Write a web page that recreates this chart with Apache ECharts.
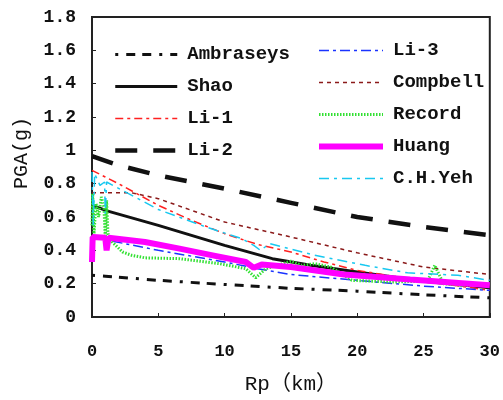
<!DOCTYPE html>
<html>
<head>
<meta charset="utf-8">
<script src="https://cdn.jsdelivr.net/npm/echarts@6/dist/echarts.min.js"></script>
<style>
  html, body { margin: 0; padding: 0; background: #fff; }
  #chart { width: 503px; height: 400px; }
</style>
</head>
<body>
<div id="chart"></div>
<script>
// PGA attenuation with rupture distance, [Rp (km), PGA (g)]
const ambraseys = [[0,0.25],[1,0.245],[5,0.22],[10,0.195],[15,0.172],[20,0.155],[25,0.133],[30,0.115]];
const shao = [[0,0.67],[1.2,0.635],[5,0.55],[10,0.43],[13.6,0.35],[16.5,0.31],[20,0.27],[25,0.215],[30,0.175]];
const li1 = [[0,0.88],[1,0.84],[2,0.80],[5,0.67],[7.5,0.58],[10,0.50],[12.5,0.435],[15,0.39],[17.5,0.33],[20,0.28],[25,0.215],[30,0.16]];
const li2 = [[0,0.965],[2,0.91],[5,0.85],[10,0.77],[15,0.685],[20,0.60],[25,0.54],[30,0.49]];
const li3 = [[0,0.48],[5,0.40],[10,0.33],[12.5,0.29],[15,0.255],[20,0.22],[25,0.185],[30,0.16]];
const compbell = [[0,0.745],[3,0.745],[5,0.71],[10,0.57],[15,0.48],[20,0.385],[25,0.30],[30,0.255]];
const record = [[0,0.55],[0.05,0.74],[0.15,0.5],[0.3,0.68],[0.5,0.6],[0.7,0.72],[0.9,0.66],[1.0,0.47],[1.1,0.7],[1.2,0.5],[1.4,0.46],[2.3,0.39],[3,0.37],[4,0.355],[6.6,0.35],[9.6,0.32],[11.6,0.29],[12.35,0.235],[13.1,0.29],[14,0.31],[15,0.335],[15.8,0.31],[16.8,0.32],[18,0.30],[19.6,0.22],[22.6,0.21],[25.3,0.215],[25.85,0.31],[26.5,0.2],[28,0.19],[30,0.19]];
const huang = [[0,0.33],[0.05,0.48],[1.0,0.475],[1.1,0.40],[1.25,0.475],[4,0.45],[6.6,0.41],[9.1,0.37],[11.6,0.33],[12.2,0.295],[12.8,0.315],[15,0.30],[19,0.255],[24,0.225],[30,0.19]];
const chYeh = [[0,0.87],[0.1,0.55],[0.2,0.86],[0.6,0.79],[0.95,0.81],[1.0,0.62],[1.1,0.81],[3,0.73],[5,0.645],[8.6,0.54],[11.3,0.47],[12.2,0.43],[12.7,0.40],[13.4,0.44],[16.8,0.37],[20.6,0.31],[23.8,0.265],[27.6,0.25],[30,0.22]];

const yTicks = [0, 0.2, 0.4, 0.6, 0.8, 1, 1.2, 1.4, 1.6, 1.8];
const xTicks = [0, 5, 10, 15, 20, 25, 30];

const FONT = '"Liberation Mono", "Noto Sans CJK SC", monospace';

function line(name, data, color, width, type) {
  return {
    name, type: 'line', data,
    symbol: 'none', showSymbol: false,
    lineStyle: { color, width, type },
    itemStyle: { color },
    z: 2
  };
}

const legendText = { fontFamily: FONT, fontSize: 19, fontWeight: 'bold', color: '#111', padding: [0, 0, 0, 5] };

const chart = echarts.init(document.getElementById('chart'), null, { renderer: 'canvas' });
chart.setOption({
  animation: false,
  backgroundColor: '#fff',
  grid: { left: 92, right: 11, top: 17, bottom: 77, show: true, borderColor: '#222', borderWidth: 2, backgroundColor: 'transparent' },
  legend: [
    {
      data: ['Ambraseys', 'Shao', 'Li-1', 'Li-2'],
      orient: 'vertical', left: 108, top: 40,
      itemWidth: 62, itemHeight: 14, itemGap: 13,
      itemStyle: { opacity: 0 },
      lineStyle: { width: 'inherit', type: 'inherit' },
      textStyle: legendText
    },
    {
      data: ['Li-3', 'Compbell', 'Record', 'Huang', 'C.H.Yeh'],
      orient: 'vertical', left: 311, top: 36,
      itemWidth: 64, itemHeight: 14, itemGap: 13,
      itemStyle: { opacity: 0 },
      lineStyle: { width: 'inherit', type: 'inherit' },
      textStyle: legendText
    }
  ],
  xAxis: {
    type: 'value', min: xTicks[0], max: xTicks[xTicks.length - 1], interval: 5,
    name: 'Rp（km）', nameLocation: 'middle', nameGap: 57,
    nameTextStyle: { fontFamily: FONT, fontSize: 21, color: '#111' },
    axisLine: { lineStyle: { color: '#222', width: 2 } },
    axisTick: { inside: true, length: 4, lineStyle: { color: '#222' } },
    axisLabel: { fontFamily: FONT, fontSize: 17, fontWeight: 'bold', color: '#111', margin: 26 },
    splitLine: { show: false }
  },
  yAxis: {
    type: 'value', min: yTicks[0], max: yTicks[yTicks.length - 1], interval: 0.2,
    axisLine: { show: true, lineStyle: { color: '#222', width: 2 } },
    axisTick: { show: true, inside: true, length: 4, lineStyle: { color: '#222' } },
    axisLabel: { fontFamily: FONT, fontSize: 18, fontWeight: 'bold', color: '#111', margin: 16 },
    splitLine: { show: false }
  },
  graphic: [{
    type: 'text', x: 22, y: 153, rotation: Math.PI / 2,
    style: { text: 'PGA(g)', font: '20px ' + FONT, fill: '#111', align: 'center', verticalAlign: 'middle' }
  }],
  series: [
    line('Ambraseys', ambraseys, '#111', 3, [3, 8, 9, 7, 9, 8]),
    line('Shao', shao, '#111', 3, 'solid'),
    line('Li-1', li1, '#ff2020', 1.5, [8, 4, 3, 4]),
    line('Li-2', li2, '#111', 4.5, [22, 16]),
    line('Li-3', li3, '#1a33ff', 1.5, [10, 4, 3, 4]),
    line('Compbell', compbell, '#8b1a1a', 1.5, [4, 4]),
    line('Record', record, '#33e033', 3, [1.5, 1.5]),
    line('Huang', huang, '#ff00ff', 6, 'solid'),
    line('C.H.Yeh', chYeh, '#18c8f0', 1.5, [10, 5, 3, 5])
  ]
});
</script>
</body>
</html>
